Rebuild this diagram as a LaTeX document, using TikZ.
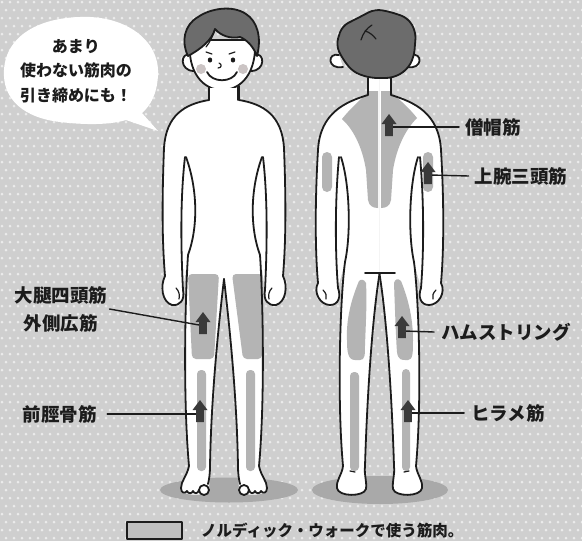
\documentclass[tikz,border=0pt]{standalone}
\usepackage{fontspec}
\newfontfamily\jp{Noto Sans CJK JP Black}
\definecolor{bgc}{HTML}{CFCFCF}
\definecolor{dotc}{HTML}{EBEBEB}
\definecolor{inkc}{HTML}{1C1C1C}
\definecolor{musclec}{HTML}{B4B4B4}
\definecolor{arrowc}{HTML}{3A3A3A}
\definecolor{hairc}{HTML}{6C6C6C}
\definecolor{shadowc}{HTML}{A9A9A9}
\definecolor{blushc}{HTML}{CBC4C4}

% one half of the front figure (the other half is mirrored)
\newcommand\FrontFillHalf{%
  \fill[white] (224,86) -- (209,86) -- (209,100)
    .. controls (185,104) and (166,115) .. (164,148)
    .. controls (162,200) and (162,240) .. (165,276)
    .. controls (160,286) and (162,302) .. (172,305)
    .. controls (180,306) and (185,300) .. (183,290)
    -- (187,262) .. controls (185,300) and (183,400) .. (189,467)
    .. controls (187,476) and (181,481) .. (181,489)
    .. controls (181,496) and (206,497) .. (209,490)
    -- (210,468) .. controls (211,400) and (218,330) .. (224,279) -- cycle;}
\newcommand\FrontLinesHalf{%
  \draw[outline] (209,86) -- (209,100)
    .. controls (185,104) and (166,115) .. (164,148)
    .. controls (162,200) and (162,240) .. (165,276)
    .. controls (160,286) and (162,302) .. (172,305)
    .. controls (180,306) and (185,300) .. (183,290);
  \draw[outline] (185,157) .. controls (180,200) and (181,250) .. (183,290);
  \draw[thinline] (176,288) .. controls (179,291) and (180,295) .. (179,299);
  \draw[outline] (186,157) .. controls (198,190) and (198,228) .. (188,255)
    .. controls (185,300) and (183,400) .. (189,466)
    .. controls (187,476) and (181,481) .. (181,488)
    .. controls (181,493) and (185,494) .. (187,491)
    .. controls (188,494) and (192,494) .. (193,491)
    .. controls (194,494) and (198,494) .. (199,490);
  \draw[outline] (224,279) .. controls (218,330) and (211,400) .. (210,467)
    .. controls (210,474) and (209,480) .. (208,484);
  \draw[outline, fill=white] (204,490) circle (5pt);}

% one half of the back figure
\newcommand\BackFillHalf{%
  \fill[white] (379.5,78) -- (368,78) -- (368,95)
    .. controls (345,102) and (320,113) .. (318,150)
    .. controls (315,200) and (315,250) .. (318,283)
    .. controls (313,292) and (320,305) .. (330,305)
    .. controls (339,305) and (341,296) .. (338,288)
    -- (345,262) .. controls (340,300) and (337,400) .. (343,466)
    .. controls (342,475) and (336,480) .. (337,488)
    .. controls (338,497) and (364,497) .. (366,489)
    .. controls (367,481) and (364,475) .. (365,466)
    .. controls (367,400) and (372,320) .. (379.5,274) -- cycle;}
\newcommand\BackLinesHalf{%
  \draw[outline] (368,78) -- (368,95)
    .. controls (345,102) and (320,113) .. (318,150)
    .. controls (315,200) and (315,250) .. (318,283)
    .. controls (313,292) and (320,305) .. (330,305)
    .. controls (339,305) and (341,296) .. (338,288);
  \draw[outline] (339,157) .. controls (335,200) and (335,250) .. (338,288);
  \draw[thinline] (323,290) .. controls (326,293) and (327,296) .. (326,299);
  \draw[outline] (341,157) .. controls (350,185) and (351,235) .. (345,262)
    .. controls (340,300) and (337,400) .. (343,466)
    .. controls (342,475) and (336,480) .. (337,488)
    .. controls (338,497) and (364,497) .. (366,489)
    .. controls (367,481) and (364,475) .. (365,466)
    .. controls (367,400) and (372,320) .. (379.5,274);
  \draw[thinline] (350,471) -- (355,472);}

\begin{document}
\begin{tikzpicture}[x=1pt,y=-1pt,line join=round,line cap=round,
  outline/.style={draw=inkc,line width=1.8pt},
  thinline/.style={draw=inkc,line width=1.2pt},
  leader/.style={draw=inkc,line width=1.4pt},
  musclefill/.style={fill=musclec},
  labeltext/.style={text=inkc,inner sep=1pt,align=center,
    font=\jp\fontsize{18.5}{28}\selectfont},
  musclearrow/.pic={\fill[arrowc] (0,0) -- (7.5,10) -- (3.8,10) -- (3.8,22)
    -- (-3.8,22) -- (-3.8,10) -- (-7.5,10) -- cycle;}]
\useasboundingbox (0,0) rectangle (582,541);

% dotted backdrop
\fill[bgc] (0,0) rectangle (582,541);
\foreach \r in {0,...,68} {
  \pgfmathsetmacro\off{mod(\r,2)*4}
  \fill[dotc] \foreach \c in {0,...,73} { ({\c*8+\off+2},{\r*8+2}) circle (1.5pt) };
}

% speech bubble
\fill[white] (80,17) .. controls (125,15) and (160,40) .. (158,75)
  .. controls (157,95) and (150,106) .. (142,113) -- (158,131) -- (126,120)
  .. controls (110,125) and (85,125) .. (60,122)
  .. controls (25,118) and (2,100) .. (4,70)
  .. controls (6,35) and (40,18) .. (80,17) -- cycle;
\node[labeltext, font=\jp\fontsize{16}{24.5}\selectfont] (bubbletext) at (76,71)
  {あまり\\使わない筋肉の\\引き締めにも！};

% floor shadows
\fill[shadowc] (229,490) ellipse (69pt and 12.5pt);
\fill[shadowc] (380,490) ellipse (68pt and 14pt);

% ---------- front figure ----------
\FrontFillHalf
\begin{scope}[shift={(448,0)},xscale=-1]\FrontFillHalf\end{scope}
% worked muscles, front
\fill[musclefill, rounded corners=4pt] (188,274) -- (219,274) -- (214,359) -- (192,359) -- cycle;
\fill[musclefill, rounded corners=4pt] (232,274) -- (263,274) -- (262,359) -- (243,359) -- cycle;
\fill[musclefill, rounded corners=4pt] (197,370) rectangle (206,471);
\fill[musclefill, rounded corners=4pt] (246,370) rectangle (255,471);
\FrontLinesHalf
\begin{scope}[shift={(448,0)},xscale=-1]\FrontLinesHalf\end{scope}

% front head
\draw[outline, fill=white] (191,55) .. controls (180,51) and (179,71) .. (194,71);
\draw[outline, fill=white] (254,55) .. controls (265,51) and (266,71) .. (251,71);
\draw[outline, fill=white] (190,40) .. controls (187,72) and (203,90) .. (222,90)
  .. controls (242,90) and (257,72) .. (255,40) -- cycle;
\fill[white] (209,88) rectangle (238,100);
\draw[outline] (209,87) -- (209,100);
\draw[outline] (238,87) -- (238,100);
\draw[outline, fill=hairc] (188,56) .. controls (181,42) and (184,25) .. (198,17)
  .. controls (211,8) and (233,5) .. (246,14)
  .. controls (257,21) and (262,37) .. (257,56)
  .. controls (253,46) and (247,40) .. (240,37)
  .. controls (231,39) and (221,36) .. (215,29)
  .. controls (212,40) and (201,49) .. (188,56) -- cycle;
\draw[thinline] (215,29) .. controls (213,36) and (210,42) .. (206,47);
\fill[blushc] (201,69) circle (5pt);
\fill[blushc] (243,69) circle (5pt);
\draw[thinline] (206,52) -- (212,54);
\draw[thinline] (235,52) -- (229,54);
\fill[inkc] (210,60) ellipse (2.2pt and 2.6pt);
\fill[inkc] (233,60) ellipse (2.2pt and 2.6pt);
\draw[thinline] (219,63) .. controls (222,64) and (222,68) .. (218,68);
\draw[outline] (207,72) .. controls (212,83) and (232,83) .. (237,72);

% ---------- back figure ----------
\BackFillHalf
\begin{scope}[shift={(759,0)},xscale=-1]\BackFillHalf\end{scope}
% worked muscles, back
\fill[musclefill] (369,91) .. controls (360,100) and (349,110) .. (342,119)
  .. controls (352,128) and (362,145) .. (366,170) -- (368,200)
  .. controls (369,206) and (373,208) .. (378,208) -- (378,91) -- cycle;
\fill[musclefill] (381,91) -- (381,208) .. controls (386,208) and (390,206) .. (391,200)
  -- (393,170) .. controls (397,145) and (407,128) .. (417,118)
  .. controls (411,110) and (400,100) .. (390,91) -- cycle;
\fill[musclefill, rounded corners=5pt] (322,152) rectangle (332,192);
\fill[musclefill, rounded corners=5pt] (423,152) rectangle (433,192);
\fill[musclefill] (359,281) .. controls (351,300) and (346,320) .. (347,340)
  .. controls (347,352) and (348,360) .. (355,360) -- (360,360)
  .. controls (365,360) and (365,355) .. (365,345)
  .. controls (366,320) and (367,300) .. (366,283) .. controls (364,279) and (361,279) .. (359,281) -- cycle;
\fill[musclefill] (394,283) .. controls (395,310) and (396,340) .. (397,352)
  .. controls (398,360) and (402,360) .. (405,360) -- (408,360)
  .. controls (413,360) and (413,352) .. (413,340)
  .. controls (413,318) and (408,298) .. (401,281) .. controls (398,278) and (395,279) .. (394,283) -- cycle;
\fill[musclefill, rounded corners=4pt] (350,372) rectangle (359,471);
\fill[musclefill, rounded corners=4pt] (402,369) rectangle (410,471);
\BackLinesHalf
\begin{scope}[shift={(759,0)},xscale=-1]\BackLinesHalf\end{scope}
\draw[outline] (365,273) -- (395,273);

% back head
\draw[outline, fill=white] (339,55) .. controls (327,52) and (327,70) .. (343,67);
\draw[outline, fill=white] (411,55) .. controls (423,52) and (423,70) .. (407,67);
\draw[outline, fill=hairc, rounded corners=7pt] (336,45) -- (342,26) -- (356,19)
  -- (375,9) -- (391,12) -- (408,18) -- (416,32) -- (414,57) -- (407,70)
  -- (393,78) -- (370,78) -- (353,72) -- (342,58) -- cycle;
\draw[thinline] (361,40) .. controls (363,33) and (367,28) .. (372,25);
\draw[thinline] (365,31) .. controls (369,32) and (373,35) .. (376,39);

% ---------- labels and leaders ----------
\node[labeltext] (quadlabel) at (61,309) {大腿四頭筋\\外側広筋};
\node[labeltext] (tiblabel) at (60,414) {前脛骨筋};
\node[labeltext] (traplabel) at (493,127) {僧帽筋};
\node[labeltext] (tricepslabel) at (521,176) {上腕三頭筋};
\node[labeltext] (hamlabel) at (506,332) {ハムストリング};
\node[labeltext] (soleuslabel) at (508,413) {ヒラメ筋};

\coordinate (quadpt) at (199,325);
\coordinate (tibpt) at (198,414);
\coordinate (trappt) at (392,127);
\coordinate (tricepspt) at (430,175);
\coordinate (hampt) at (404,331);
\coordinate (soleuspt) at (410,413);

\draw[leader] ([xshift=1pt]quadlabel.east) -- (quadpt);
\draw[leader] ([xshift=9pt]tiblabel.east) -- (tibpt);
\draw[leader] ([xshift=-5pt]traplabel.west) -- (trappt);
\draw[leader] ([xshift=-5pt]tricepslabel.west) -- (tricepspt);
\draw[leader] ([xshift=-6pt]hamlabel.west) -- (hampt);
\draw[leader] ([xshift=-6pt]soleuslabel.west) -- (soleuspt);

\pic at (203,312) {musclearrow};
\pic at (200,400) {musclearrow};
\pic at (389,114) {musclearrow};
\pic at (428,162) {musclearrow};
\pic at (402,316) {musclearrow};
\pic at (408,400) {musclearrow};

% legend
\draw[draw=inkc, line width=1.3pt, fill=musclec!85!white] (127,522) rectangle (182,539);
\node[labeltext, anchor=west, font=\jp\fontsize{15.5}{18}\selectfont] (legendtext) at (200,530)
  {ノルディック・ウォークで使う筋肉。};
\end{tikzpicture}
\end{document}
